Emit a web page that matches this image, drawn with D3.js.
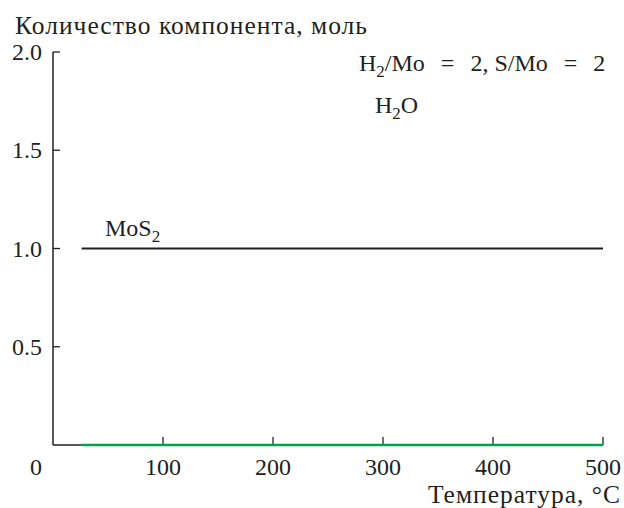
<!DOCTYPE html>
<html>
<head>
<meta charset="utf-8">
<script src="https://cdn.jsdelivr.net/npm/d3@7"></script>
<style>
  body { margin: 0; background: #fff; }
  svg text { font-family: "Liberation Serif", "DejaVu Serif", serif; }
</style>
</head>
<body>
<script>
// series: temperature (°C) and amount (mol)
var temps = [26, 100, 200, 300, 400, 500];
var mos2 = [1, 1, 1, 1, 1, 1];
var h2o = [0, 0, 0, 0, 0, 0];
var xTicks = [0, 100, 200, 300, 400, 500];
var yTicks = [0.5, 1.0, 1.5, 2.0];

var width = 624, height = 508;
var INK = "#231f20";

var svg = d3.select("body").append("svg")
    .attr("width", width)
    .attr("height", height)
    .attr("font-size", 24)
    .attr("fill", INK);

var x = d3.scaleLinear().domain([0, 500]).range([53, 603]);
var y = d3.scaleLinear().domain([0, 2]).range([445, 52]);

// axes lines
svg.append("line")
    .attr("x1", x(0)).attr("x2", x(0))
    .attr("y1", y(0)).attr("y2", y(2))
    .attr("stroke", INK).attr("stroke-width", 1.5);
svg.append("line")
    .attr("x1", x(0)).attr("x2", x(500))
    .attr("y1", y(0)).attr("y2", y(0))
    .attr("stroke", INK).attr("stroke-width", 1.5);

// x ticks (pointing up)
svg.selectAll(".xt")
    .data(xTicks.filter(function(d){ return d > 0; }))
    .enter().append("line")
    .attr("x1", function(d){ return x(d); })
    .attr("x2", function(d){ return x(d); })
    .attr("y1", y(0)).attr("y2", y(0) - 8)
    .attr("stroke", INK).attr("stroke-width", 1.3);

svg.selectAll(".xl")
    .data(xTicks)
    .enter().append("text")
    .attr("x", function(d){ return d == 0 ? x(d) - 17 : x(d); })
    .attr("y", 475)
    .attr("text-anchor", "middle")
    .text(function(d){ return d; });

// y ticks (pointing right)
svg.selectAll(".yt")
    .data(yTicks)
    .enter().append("line")
    .attr("x1", x(0)).attr("x2", x(0) + 7)
    .attr("y1", function(d){ return y(d); })
    .attr("y2", function(d){ return y(d); })
    .attr("stroke", INK).attr("stroke-width", 1.3);

svg.selectAll(".yl")
    .data(yTicks)
    .enter().append("text")
    .attr("x", 42)
    .attr("y", function(d){ return y(d) + 8; })
    .attr("text-anchor", "end")
    .text(function(d){ return d.toFixed(1); });

var line = d3.line()
    .x(function(d){ return x(d[0]); })
    .y(function(d){ return y(d[1]); });

svg.append("path")
    .datum(d3.zip(temps, h2o))
    .attr("d", line)
    .attr("fill", "none")
    .attr("stroke", "#00a14b")
    .attr("stroke-width", 2.3);

svg.append("path")
    .datum(d3.zip(temps, mos2))
    .attr("d", line)
    .attr("fill", "none")
    .attr("stroke", INK)
    .attr("stroke-width", 2);

// titles
svg.append("text")
    .attr("x", 15).attr("y", 34)
    .attr("font-size", 25.5)
    .attr("textLength", 352)
    .attr("lengthAdjust", "spacing")
    .text("Количество компонента, моль");

svg.append("text")
    .attr("x", 428).attr("y", 503)
    .attr("font-size", 25.5)
    .attr("textLength", 192)
    .attr("lengthAdjust", "spacing")
    .text("Температура, °C");

function chem(xp, yp, parts) {
    var t = svg.append("text").attr("x", xp).attr("y", yp);
    var shift = 0;
    parts.forEach(function(p){
        var ts = t.append("tspan");
        if (p.sub) {
            ts.attr("dy", 6 - shift).attr("font-size", 17);
            shift = 6;
        } else {
            ts.attr("dy", -shift);
            shift = 0;
        }
        if (p.dx) ts.attr("dx", p.dx);
        ts.text(p.s);
    });
}

chem(359, 71, [{s:"H"},{s:"2",sub:true},{s:"/Mo"},{s:" =",dx:10},{s:" 2, S/Mo",dx:10},{s:" =",dx:10},{s:" 2",dx:10}]);
chem(375, 113, [{s:"H"},{s:"2",sub:true},{s:"O"}]);
chem(105, 236, [{s:"MoS"},{s:"2",sub:true}]);
</script>
</body>
</html>
